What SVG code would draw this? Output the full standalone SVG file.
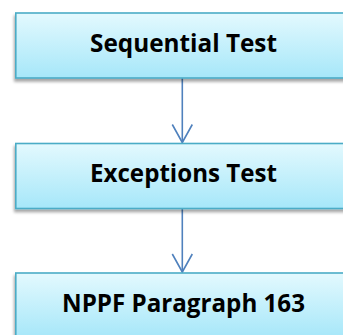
<svg xmlns="http://www.w3.org/2000/svg" width="343" height="335" viewBox="0 0 343 335">
<defs>
<linearGradient id="g" x1="0" y1="0" x2="0" y2="1">
<stop offset="0" stop-color="#e3f9fe"/>
<stop offset="1" stop-color="#a6e7f9"/>
</linearGradient>
<filter id="sh" x="-10%" y="-20%" width="120%" height="150%">
<feGaussianBlur in="SourceAlpha" stdDeviation="1.8"/>
<feOffset dx="-1" dy="3" result="b"/>
<feComponentTransfer><feFuncA type="linear" slope="0.35"/></feComponentTransfer>
<feMerge><feMergeNode/><feMergeNode in="SourceGraphic"/></feMerge>
</filter>
</defs>
<style>
.box{fill:url(#g);stroke:#4bacc6;stroke-width:1.6;filter:url(#sh)}
.t{font-family:"Open Sans",Lato,sans-serif;font-weight:bold;font-size:25px;fill:#000;text-anchor:middle;font-variant-ligatures:none}
.c{stroke:#4f81bd;stroke-width:1.6;fill:none}
</style>
<g id="connectors">
<line class="c" x1="182.3" y1="78" x2="182.3" y2="142.5"/>
<polyline class="c" points="172.3,124.5 182.3,142.5 192.3,124.5"/>
<line class="c" x1="182.3" y1="208.5" x2="182.3" y2="272"/>
<polyline class="c" points="172.3,254 182.3,272 192.3,254"/>
</g>
<g id="sequential">
<rect class="box" x="15.8" y="13" width="335" height="65"/>
<text class="t" x="183.5" y="51.7" textLength="187" lengthAdjust="spacingAndGlyphs">Sequential Test</text>
</g>
<g id="exceptions">
<rect class="box" x="15.8" y="143.5" width="335" height="65"/>
<text class="t" x="183.5" y="181.7" textLength="187" lengthAdjust="spacingAndGlyphs">Exceptions Test</text>
</g>
<g id="nppf">
<rect class="box" x="15.8" y="273" width="335" height="65"/>
<text class="t" x="183.5" y="311.7" textLength="243" lengthAdjust="spacingAndGlyphs">NPPF Paragraph 163</text>
</g>
</svg>
